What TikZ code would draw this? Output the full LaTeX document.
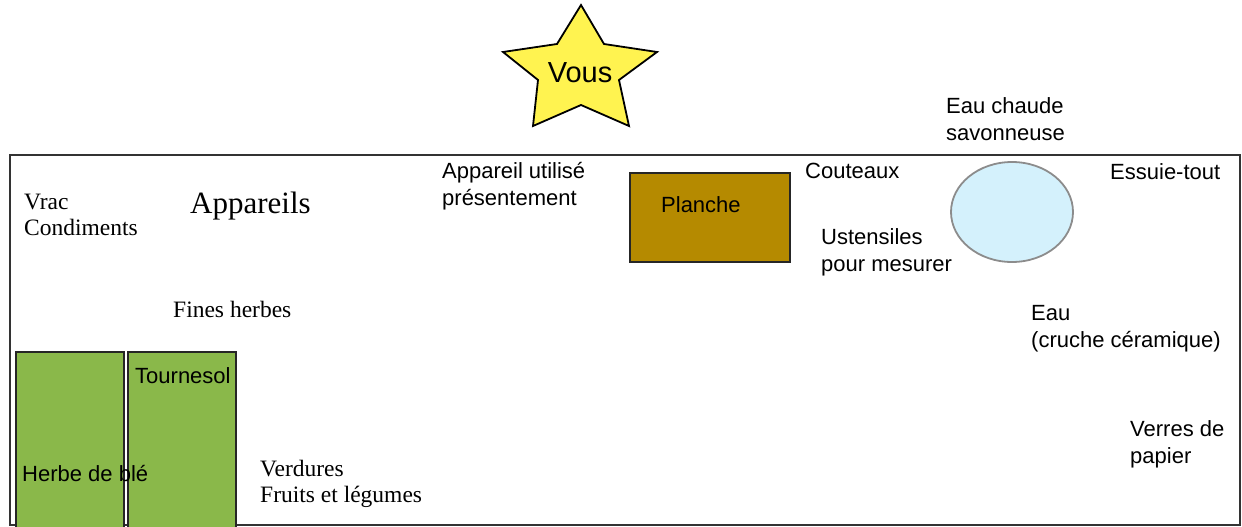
\documentclass[tikz,border=0pt]{standalone}
\usepackage{fontspec}
\usetikzlibrary{shapes.geometric}
\setmainfont{Liberation Serif}
\newfontfamily\helv{Liberation Sans}
\definecolor{boxgreen}{HTML}{8AB84A}
\definecolor{plank}{HTML}{B58A00}
\definecolor{staryellow}{HTML}{FFF350}
\definecolor{basin}{HTML}{D4F1FC}
\definecolor{rimgray}{HTML}{8C8C8C}
\begin{document}
\begin{tikzpicture}[x=1pt,y=-1pt,
  sanslbl/.style={anchor=base west,inner sep=0pt,font=\helv\fontsize{22}{26.5}\selectfont,align=left},
  seriflbl/.style={anchor=base west,inner sep=0pt,font=\fontsize{23.5}{25.5}\selectfont,align=left},
  greenbox/.style={draw=black!85,line width=1.8pt,fill=boxgreen}]
\useasboundingbox (0,0) rectangle (1242,527);
\begin{scope}
\clip (0,0) rectangle (1242,527);
% counter outline
\draw[line width=1.8pt,draw=black!80] (10,155) rectangle (1240,525);
% green boxes
\draw[greenbox] (16,352) rectangle (124,530);
\draw[greenbox] (128,352) rectangle (236,530);
\end{scope}
% star
\draw[line width=1.8pt,fill=staryellow,line join=miter]
  (581,5) -- (604,44) -- (657,52) -- (619,80) -- (629,126) -- (581,105)
  -- (533,126) -- (538,80) -- (503,52) -- (557,44) -- cycle;
\node[inner sep=0pt,font=\helv\fontsize{29}{32}\selectfont,anchor=base] (vous) at (580,82) {Vous};
% plank
\node[draw=black!85,line width=1.8pt,fill=plank,minimum width=160pt,minimum height=89pt,inner sep=0pt] (planche) at (710,217.5) {};
\node[sanslbl] (planchelbl) at (661,212) {Planche};
% basin
\node[draw=rimgray,line width=1.8pt,fill=basin,ellipse,minimum width=122pt,minimum height=100pt,inner sep=0pt] (bassin) at (1012,212) {};
% labels (base anchor = baseline of the last line)
\node[seriflbl] (vrac) at (24,235) {Vrac\\Condiments};
\node[seriflbl,font=\fontsize{31}{34}\selectfont] (appareils) at (190,213) {Appareils};
\node[seriflbl] (fines) at (173,317) {Fines herbes};
\node[seriflbl] (verdures) at (260,502) {Verdures\\Fruits et légumes};
\node[sanslbl] (tournesol) at (135,383) {Tournesol};
\node[sanslbl] (herbe) at (22,481) {Herbe de blé};
\node[sanslbl] (utilise) at (442,205) {Appareil utilisé\\présentement};
\node[sanslbl] (couteaux) at (805,178) {Couteaux};
\node[sanslbl] (chaude) at (946,140) {Eau chaude\\savonneuse};
\node[sanslbl] (essuie) at (1110,179) {Essuie-tout};
\node[sanslbl] (ustensiles) at (821,271) {Ustensiles\\pour mesurer};
\node[sanslbl] (eau) at (1031,347) {Eau\\(cruche céramique)};
\node[sanslbl] (verres) at (1130,463) {Verres de\\papier};
\end{tikzpicture}
\end{document}
